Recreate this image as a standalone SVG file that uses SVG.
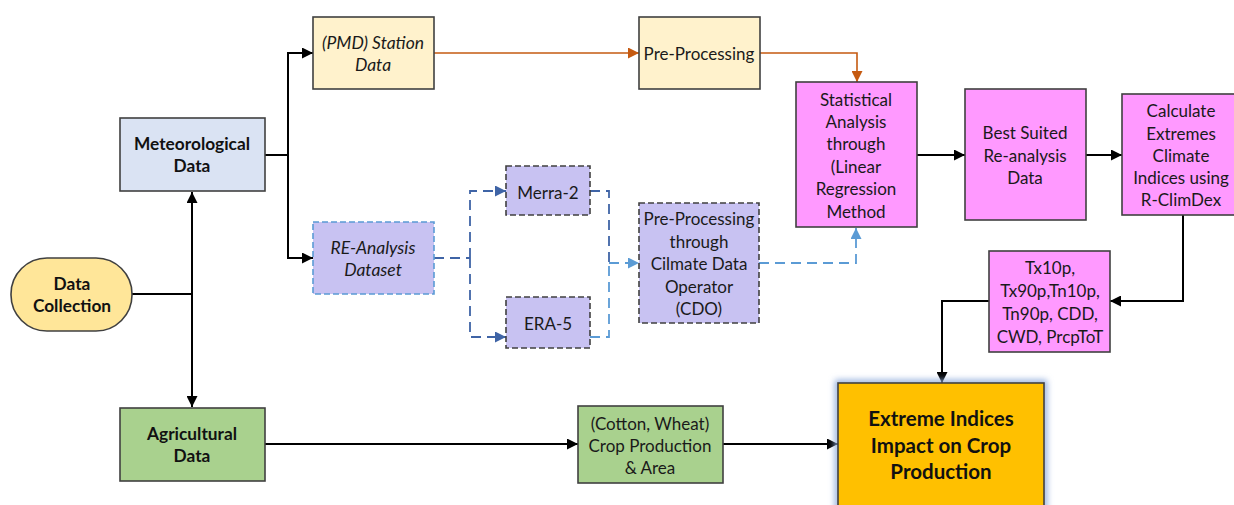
<svg xmlns="http://www.w3.org/2000/svg" width="1234" height="505" viewBox="0 0 1234 505">
  <style>
    .t { font-family: Lato, "Open Sans", "Noto Sans", sans-serif; font-size: 17px; fill: #1a1a1a; text-anchor: middle; dominant-baseline: central; }
    .b { font-weight: bold; font-size: 17.3px; fill: #111; }
    .i { font-style: italic; font-size: 17.5px; }
    .big { font-size: 20.5px; font-weight: bold; fill: #111; }
    .box { stroke: #404040; stroke-width: 1.6; }
    .dash { stroke-dasharray: 6 3; }
    .con { fill: none; stroke: #000; stroke-width: 2; }
    .orange { fill: none; stroke: #c55a11; stroke-width: 1.6; }
    .dblue { fill: none; stroke: #3f64a6; stroke-width: 1.8; stroke-dasharray: 10 6; }
    .lblue { fill: none; stroke: #5b9bd5; stroke-width: 1.8; stroke-dasharray: 10 6; }
  </style>
  <defs>
    <marker id="ak" viewBox="0 0 10 10" refX="10" refY="5" markerWidth="11" markerHeight="11" markerUnits="userSpaceOnUse" orient="auto-start-reverse">
      <path d="M0,0 L10,5 L0,10 z" fill="#000"/>
    </marker>
    <marker id="ao" viewBox="0 0 10 10" refX="10" refY="5" markerWidth="11" markerHeight="11" markerUnits="userSpaceOnUse" orient="auto">
      <path d="M0,0 L10,5 L0,10 z" fill="#c55a11"/>
    </marker>
    <marker id="ad" viewBox="0 0 10 10" refX="10" refY="5" markerWidth="11" markerHeight="11" markerUnits="userSpaceOnUse" orient="auto">
      <path d="M0,0 L10,5 L0,10 z" fill="#3f64a6"/>
    </marker>
    <marker id="al" viewBox="0 0 10 10" refX="10" refY="5" markerWidth="11" markerHeight="11" markerUnits="userSpaceOnUse" orient="auto">
      <path d="M0,0 L10,5 L0,10 z" fill="#5b9bd5"/>
    </marker>
    <filter id="glow" x="-20%" y="-20%" width="140%" height="140%">
      <feGaussianBlur stdDeviation="3"/>
    </filter>
  </defs>

  <rect width="1234" height="505" fill="#fff"/>

  <!-- connectors -->
  <g id="connectors">
    <path class="con" d="M265,155 H288"/>
    <path class="con" d="M288,155 V53 H313" marker-end="url(#ak)"/>
    <path class="con" d="M288,155 V258 H313" marker-end="url(#ak)"/>
    <path class="con" d="M132,294 H192"/>
    <path class="con" d="M192,192 V407" marker-start="url(#ak)" marker-end="url(#ak)"/>
    <path class="orange" d="M434,53 H639" marker-end="url(#ao)"/>
    <path class="orange" d="M760,53 H857 V82" marker-end="url(#ao)"/>
    <path class="dblue" d="M434,258 H470"/>
    <path class="dblue" d="M470,258 V191 H506" marker-end="url(#ad)"/>
    <path class="dblue" d="M470,258 V337 H506" marker-end="url(#ad)"/>
    <path class="dblue" d="M590,191 H609 V263"/>
    <path class="lblue" d="M590,337 H609 V263"/>
    <path class="lblue" d="M609,263 H639" marker-end="url(#al)"/>
    <path class="lblue" d="M759,263 H856 V228" marker-end="url(#al)"/>
    <path class="con" d="M917,155 H965" marker-end="url(#ak)"/>
    <path class="con" d="M1086,155 H1122" marker-end="url(#ak)"/>
    <path class="con" d="M1183,215 V301 H1110" marker-end="url(#ak)"/>
    <path class="con" d="M989,301 H942 V383" marker-end="url(#ak)"/>
    <path class="con" d="M265,444 H578" marker-end="url(#ak)"/>
    <path class="con" d="M723,444 H838" marker-end="url(#ak)"/>
  </g>

  <g id="data-collection">
    <rect x="11" y="258" width="121" height="73" rx="36" ry="36" fill="#ffe699" class="box"/>
    <text class="t b" x="72" y="283">Data</text>
    <text class="t b" x="72" y="305">Collection</text>
  </g>

  <g id="meteorological">
    <rect x="120" y="118" width="145" height="73" fill="#dae3f3" class="box"/>
    <text class="t b" x="192" y="143">Meteorological</text>
    <text class="t b" x="192" y="165">Data</text>
  </g>

  <g id="agricultural">
    <rect x="120" y="408" width="145" height="73" fill="#a9d18e" class="box"/>
    <text class="t b" x="192" y="433">Agricultural</text>
    <text class="t b" x="192" y="455">Data</text>
  </g>

  <g id="pmd-station">
    <rect x="313" y="17" width="121" height="72" fill="#fff2cc" class="box"/>
    <text class="t i" x="373" y="42">(PMD) Station</text>
    <text class="t i" x="373" y="64">Data</text>
  </g>

  <g id="re-analysis">
    <rect x="313" y="222" width="121" height="72" fill="#c8c2f2" stroke="#5b9bd5" stroke-width="1.6" class="dash"/>
    <text class="t i" x="373" y="247">RE-Analysis</text>
    <text class="t i" x="373" y="269">Dataset</text>
  </g>

  <g id="merra-2">
    <rect x="506" y="166" width="84" height="49" fill="#c8c2f2" class="box dash"/>
    <text class="t" x="548" y="192">Merra-2</text>
  </g>

  <g id="era-5">
    <rect x="506" y="297" width="84" height="51" fill="#c8c2f2" class="box dash"/>
    <text class="t" x="548" y="323">ERA-5</text>
  </g>

  <g id="cdo">
    <rect x="639" y="203" width="120" height="120" fill="#c8c2f2" class="box dash"/>
    <text class="t" x="699" y="218">Pre-Processing</text>
    <text class="t" x="699" y="241">through</text>
    <text class="t" x="699" y="263">Cilmate Data</text>
    <text class="t" x="699" y="286">Operator</text>
    <text class="t" x="699" y="308">(CDO)</text>
  </g>

  <g id="pre-processing">
    <rect x="639" y="17" width="121" height="72" fill="#fff2cc" class="box"/>
    <text class="t" x="699" y="53">Pre-Processing</text>
  </g>

  <g id="statistical">
    <rect x="796" y="82" width="121" height="145" fill="#ff99ff" class="box"/>
    <text class="t" x="856" y="99">Statistical</text>
    <text class="t" x="856" y="121">Analysis</text>
    <text class="t" x="856" y="143">through</text>
    <text class="t" x="856" y="166">(Linear</text>
    <text class="t" x="856" y="188">Regression</text>
    <text class="t" x="856" y="211">Method</text>
  </g>

  <g id="best-suited">
    <rect x="965" y="89" width="121" height="131" fill="#ff99ff" class="box"/>
    <text class="t" x="1025" y="132">Best Suited</text>
    <text class="t" x="1025" y="155">Re-analysis</text>
    <text class="t" x="1025" y="177">Data</text>
  </g>

  <g id="calculate">
    <rect x="1122" y="94" width="120" height="121" fill="#ff99ff" class="box"/>
    <text class="t" x="1181" y="110">Calculate</text>
    <text class="t" x="1181" y="133">Extremes</text>
    <text class="t" x="1181" y="155">Climate</text>
    <text class="t" x="1181" y="177">Indices using</text>
    <text class="t" x="1181" y="199">R-ClimDex</text>
  </g>

  <g id="indices">
    <rect x="989" y="251" width="121" height="101" fill="#ff99ff" class="box"/>
    <text class="t" x="1050" y="267">Tx10p,</text>
    <text class="t" x="1050" y="290">Tx90p,Tn10p,</text>
    <text class="t" x="1050" y="313">Tn90p, CDD,</text>
    <text class="t" x="1050" y="336">CWD, PrcpToT</text>
  </g>

  <g id="crop-production">
    <rect x="578" y="406" width="145" height="77" fill="#a9d18e" class="box"/>
    <text class="t" x="650" y="423">(Cotton, Wheat)</text>
    <text class="t" x="650" y="445">Crop Production</text>
    <text class="t" x="650" y="467">&amp; Area</text>
  </g>

  <g id="impact">
    <rect x="838" y="383" width="206" height="140" fill="none" stroke="#8eaadb" stroke-width="6" filter="url(#glow)"/>
    <rect x="838" y="383" width="206" height="140" fill="#ffc000" class="box"/>
    <text class="t big" x="941" y="418">Extreme Indices</text>
    <text class="t big" x="941" y="445">Impact on Crop</text>
    <text class="t big" x="941" y="471">Production</text>
  </g>
</svg>
